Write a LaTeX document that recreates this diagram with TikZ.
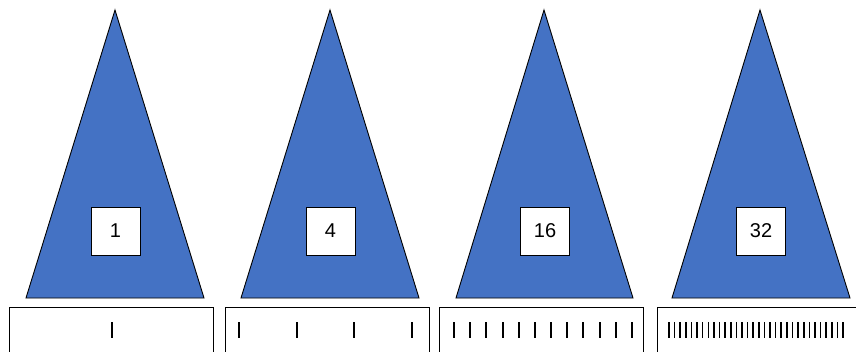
\documentclass[tikz,border=0pt]{standalone}
\usepackage{fontspec}
\setmainfont{Liberation Sans}
\definecolor{triblue}{HTML}{4472C4}
\tikzset{
  tri/.style={fill=triblue, draw=black, line width=0.9pt, line join=miter},
  labelbox/.style={draw=black, fill=white, line width=1pt, minimum width=49pt, minimum height=48pt, inner sep=0pt, font=\fontsize{20}{22}\selectfont},
  strip/.style={draw=black, line width=1pt},
  tick/.style={draw=black, line width=2pt}
}
\begin{document}
\begin{tikzpicture}[x=1pt, y=-1pt]
\clip (0,0) rectangle (856,351);
\fill[white] (0,0) rectangle (856,351);
% triangles
\draw[tri] (115,10) -- (204,298) -- (26,298) -- cycle;
\draw[tri] (330,10) -- (419,298) -- (241,298) -- cycle;
\draw[tri] (544,10) -- (633,298) -- (456,298) -- cycle;
\draw[tri] (760,10) -- (850,298) -- (672,298) -- cycle;
% labels
\node[labelbox] (l1) at (115.5,231) {1};
\node[labelbox] (l2) at (330.5,231) {4};
\node[labelbox] (l3) at (545,231) {16};
\node[labelbox] (l4) at (761,231) {32};
% strips
\draw[strip] (9,360) -- (9,307) -- (213,307) -- (213,360);
\draw[strip] (225,360) -- (225,307) -- (429,307) -- (429,360);
\draw[strip] (439,360) -- (439,307) -- (643,307) -- (643,360);
\draw[strip] (657,360) -- (657,307) -- (861,307) -- (861,360);
% ticks
\draw[tick] (112,322) -- (112,338);
\foreach \k in {0,...,3} \draw[tick] ({239+57.67*\k},322) -- ({239+57.67*\k},338);
\foreach \k in {0,...,11} \draw[tick] ({454+16.18*\k},322) -- ({454+16.18*\k},338);
\foreach \k in {0,...,31} \draw[tick, line width=1.6pt] ({669+5.613*\k},322) -- ({669+5.613*\k},338);
\end{tikzpicture}
\end{document}
